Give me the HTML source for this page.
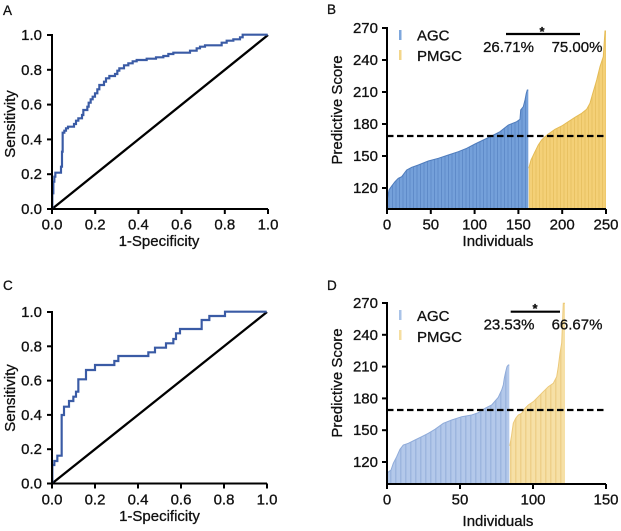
<!DOCTYPE html>
<html>
<head>
<meta charset="utf-8">
<style>
  html, body { margin: 0; padding: 0; background: #ffffff; }
  body { width: 621px; height: 531px; overflow: hidden; }
  svg { display: block; }
  text { font-family: "Liberation Sans", Arial, sans-serif; fill: #111; stroke: #111; stroke-width: 0.3px; }
</style>
</head>
<body>
<svg width="621" height="531" viewBox="0 0 621 531" xmlns="http://www.w3.org/2000/svg">
  <defs>
    <pattern id="pB1" patternUnits="userSpaceOnUse" width="3.5" height="10">
      <rect width="3.5" height="10" fill="#74a0da"/>
      <rect x="0" width="1" height="10" fill="#5f8bc9"/>
    </pattern>
    <pattern id="pB2" patternUnits="userSpaceOnUse" width="3.5" height="10">
      <rect width="3.5" height="10" fill="#f4d077"/>
      <rect x="0" width="1" height="10" fill="#e9c263"/>
    </pattern>
    <pattern id="pD1" patternUnits="userSpaceOnUse" width="5" height="10">
      <rect width="5" height="10" fill="#b3c8ea"/>
      <rect x="0" width="1.5" height="10" fill="#9db6df"/>
    </pattern>
    <pattern id="pD2" patternUnits="userSpaceOnUse" width="5" height="10">
      <rect width="5" height="10" fill="#f6e0a6"/>
      <rect x="0" width="1.5" height="10" fill="#eed08a"/>
    </pattern>
  </defs>

  <rect width="621" height="531" fill="#ffffff"/>

  <!-- ================= Panel A ================= -->
  <text x="3" y="15" font-size="13.5">A</text>
  <line x1="52" y1="209" x2="268" y2="35" stroke="#000" stroke-width="2.3"/>
  <g transform="scale(0.33333)">
    <path d="M157,626 L157,580 L160,580 L160,545 L163,545 L163,530 L166,530 L166,518 L183,518 L183,500 L186,500 L186,455 L188,455 L188,398 L193,398 L193,392 L198,392 L198,385 L204,385 L204,380 L222,380 L222,372 L228,372 L228,362 L235,362 L235,355 L246,355 L246,345 L250,345 L250,330 L262,330 L262,320 L266,320 L266,308 L272,308 L272,298 L278,298 L278,290 L285,290 L285,280 L292,280 L292,268 L298,268 L298,255 L312,255 L312,245 L318,245 L318,235 L328,235 L328,228 L345,228 L345,222 L352,222 L352,212 L358,212 L358,205 L372,205 L372,196 L385,196 L385,190 L398,190 L398,184 L410,184 L410,180 L440,180 L440,176 L468,176 L468,172 L490,172 L490,168 L505,168 L505,162 L520,162 L520,158 L570,158 L570,152 L590,152 L590,145 L600,145 L600,140 L615,140 L615,136 L665,136 L665,128 L680,128 L680,122 L700,122 L700,118 L720,118 L720,112 L728,112 L728,104 L803,104"
          fill="none" stroke="#3a5ba5" stroke-width="6.5" stroke-linejoin="miter"/>
  </g>
  <g stroke="#000" stroke-width="2" fill="none">
    <line x1="52" y1="34" x2="52" y2="210"/>
    <line x1="51" y1="209" x2="268" y2="209"/>
    <line x1="47" y1="209" x2="52" y2="209"/>
    <line x1="47" y1="174.2" x2="52" y2="174.2"/>
    <line x1="47" y1="139.4" x2="52" y2="139.4"/>
    <line x1="47" y1="104.6" x2="52" y2="104.6"/>
    <line x1="47" y1="69.8" x2="52" y2="69.8"/>
    <line x1="47" y1="35" x2="52" y2="35"/>
    <line x1="52" y1="209" x2="52" y2="214"/>
    <line x1="95.2" y1="209" x2="95.2" y2="214"/>
    <line x1="138.4" y1="209" x2="138.4" y2="214"/>
    <line x1="181.6" y1="209" x2="181.6" y2="214"/>
    <line x1="224.8" y1="209" x2="224.8" y2="214"/>
    <line x1="268" y1="209" x2="268" y2="214"/>
  </g>
  <g font-size="15" text-anchor="end">
    <text x="42" y="214">0.0</text>
    <text x="42" y="179.2">0.2</text>
    <text x="42" y="144.4">0.4</text>
    <text x="42" y="109.6">0.6</text>
    <text x="42" y="74.8">0.8</text>
    <text x="42" y="40">1.0</text>
  </g>
  <g font-size="15" text-anchor="middle">
    <text x="52" y="229.5">0.0</text>
    <text x="95.2" y="229.5">0.2</text>
    <text x="138.4" y="229.5">0.4</text>
    <text x="181.6" y="229.5">0.6</text>
    <text x="224.8" y="229.5">0.8</text>
    <text x="268" y="229.5">1.0</text>
  </g>
  <text x="159" y="246" font-size="15" text-anchor="middle">1-Specificity</text>
  <text transform="translate(15,124) rotate(-90)" font-size="15" text-anchor="middle">Sensitivity</text>

  <!-- ================= Panel B ================= -->
  <text x="327" y="14" font-size="13.5">B</text>
  <polygon fill="url(#pB1)" points="387.5,209 387.5,198 389,190 391.7,186 395,181.7 398.3,178.3 401.7,176.7 406.7,170 411.7,167.3 418.3,165 428.3,161 438.3,158.3 448.3,155 458.3,151.7 466.7,148.3 475,144 483.3,140 491.7,136 500,131.7 508.3,125 516.7,121.7 520,119.3 520.7,110 523.3,106.7 525,100 526.3,93.3 527.3,90 528.3,90 528.3,209"/>
  <polyline fill="none" stroke="#4f7cbc" stroke-width="1" points="387.5,198 389,190 391.7,186 395,181.7 398.3,178.3 401.7,176.7 406.7,170 411.7,167.3 418.3,165 428.3,161 438.3,158.3 448.3,155 458.3,151.7 466.7,148.3 475,144 483.3,140 491.7,136 500,131.7 508.3,125 516.7,121.7 520,119.3 520.7,110 523.3,106.7 525,100 526.3,93.3 527.3,90 528.3,90"/>
  <polygon fill="url(#pB2)" points="528.8,209 528.8,168.3 531,160 535,151.7 538.3,145 541.7,140 545,136.7 548.3,134 551.7,131.7 555,129.3 561.7,126 568.3,121.7 575,117.3 581.7,113.3 586.7,109.3 590,103.3 592.3,95 594.3,88.3 596.7,80 600,66.7 603.3,56.7 605,31 606,31 606,209"/>
  <polyline fill="none" stroke="#e4bb55" stroke-width="1" points="528.8,168.3 531,160 535,151.7 538.3,145 541.7,140 545,136.7 548.3,134 551.7,131.7 555,129.3 561.7,126 568.3,121.7 575,117.3 581.7,113.3 586.7,109.3 590,103.3 592.3,95 594.3,88.3 596.7,80 600,66.7 603.3,56.7 605,31 606,31"/>
  <line x1="387" y1="136" x2="606" y2="136" stroke="#000" stroke-width="2.2" stroke-dasharray="6.5 3.5"/>
  <g stroke="#000" stroke-width="2" fill="none">
    <line x1="387" y1="27" x2="387" y2="210"/>
    <line x1="386" y1="209" x2="606" y2="209"/>
    <line x1="382" y1="28" x2="387" y2="28"/>
    <line x1="382" y1="60" x2="387" y2="60"/>
    <line x1="382" y1="92" x2="387" y2="92"/>
    <line x1="382" y1="124" x2="387" y2="124"/>
    <line x1="382" y1="156" x2="387" y2="156"/>
    <line x1="382" y1="188" x2="387" y2="188"/>
    <line x1="387" y1="209" x2="387" y2="214"/>
    <line x1="430.8" y1="209" x2="430.8" y2="214"/>
    <line x1="474.6" y1="209" x2="474.6" y2="214"/>
    <line x1="518.4" y1="209" x2="518.4" y2="214"/>
    <line x1="562.2" y1="209" x2="562.2" y2="214"/>
    <line x1="606" y1="209" x2="606" y2="214"/>
  </g>
  <g font-size="15" text-anchor="end">
    <text x="378" y="33">270</text>
    <text x="378" y="65">240</text>
    <text x="378" y="97">210</text>
    <text x="378" y="129">180</text>
    <text x="378" y="161">150</text>
    <text x="378" y="193">120</text>
  </g>
  <g font-size="15" text-anchor="middle">
    <text x="387" y="229.5">0</text>
    <text x="430.8" y="229.5">50</text>
    <text x="474.6" y="229.5">100</text>
    <text x="518.4" y="229.5">150</text>
    <text x="562.2" y="229.5">200</text>
    <text x="606" y="229.5">250</text>
  </g>
  <text x="498" y="246" font-size="15" text-anchor="middle">Individuals</text>
  <text transform="translate(342,110) rotate(-90)" font-size="15" text-anchor="middle">Predictive Score</text>
  <rect x="399" y="30" width="2.5" height="10" fill="#7ea7dd"/>
  <rect x="399" y="50" width="2.5" height="10" fill="#f3d68a"/>
  <text x="417" y="40.5" font-size="15">AGC</text>
  <text x="417" y="61" font-size="15">PMGC</text>
  <line x1="506" y1="34" x2="580" y2="34" stroke="#000" stroke-width="2.2"/>
  <text x="542" y="36" font-size="13" font-weight="bold" text-anchor="middle">*</text>
  <text x="508.5" y="52" font-size="15" text-anchor="middle">26.71%</text>
  <text x="577" y="52" font-size="15" text-anchor="middle">75.00%</text>

  <!-- ================= Panel C ================= -->
  <text x="3" y="290" font-size="13.5">C</text>
  <line x1="52" y1="483.5" x2="267" y2="312" stroke="#000" stroke-width="2.3"/>
  <g transform="translate(0,265) scale(0.33333)">
    <path d="M157,653 L157,600 L163,600 L163,588 L172,588 L172,572 L185,572 L185,450 L192,450 L192,425 L207,425 L207,408 L220,408 L220,395 L228,395 L228,380 L235,380 L235,343 L258,343 L258,315 L285,315 L285,300 L343,300 L343,288 L355,288 L355,273 L445,273 L445,262 L465,262 L465,248 L498,248 L498,235 L520,235 L520,222 L528,222 L528,205 L540,205 L540,192 L605,192 L605,165 L628,165 L628,153 L675,153 L675,140 L800,140"
          fill="none" stroke="#3a5ba5" stroke-width="6.5" stroke-linejoin="miter"/>
  </g>
  <g stroke="#000" stroke-width="2" fill="none">
    <line x1="52" y1="311" x2="52" y2="484.5"/>
    <line x1="51" y1="483.5" x2="267" y2="483.5"/>
    <line x1="47" y1="483.5" x2="52" y2="483.5"/>
    <line x1="47" y1="449.2" x2="52" y2="449.2"/>
    <line x1="47" y1="414.9" x2="52" y2="414.9"/>
    <line x1="47" y1="380.6" x2="52" y2="380.6"/>
    <line x1="47" y1="346.3" x2="52" y2="346.3"/>
    <line x1="47" y1="312" x2="52" y2="312"/>
    <line x1="52" y1="483.5" x2="52" y2="488.5"/>
    <line x1="95" y1="483.5" x2="95" y2="488.5"/>
    <line x1="138" y1="483.5" x2="138" y2="488.5"/>
    <line x1="181" y1="483.5" x2="181" y2="488.5"/>
    <line x1="224" y1="483.5" x2="224" y2="488.5"/>
    <line x1="267" y1="483.5" x2="267" y2="488.5"/>
  </g>
  <g font-size="15" text-anchor="end">
    <text x="42" y="488.5">0.0</text>
    <text x="42" y="454.2">0.2</text>
    <text x="42" y="419.9">0.4</text>
    <text x="42" y="385.6">0.6</text>
    <text x="42" y="351.3">0.8</text>
    <text x="42" y="317">1.0</text>
  </g>
  <g font-size="15" text-anchor="middle">
    <text x="52" y="504.5">0.0</text>
    <text x="95" y="504.5">0.2</text>
    <text x="138" y="504.5">0.4</text>
    <text x="181" y="504.5">0.6</text>
    <text x="224" y="504.5">0.8</text>
    <text x="267" y="504.5">1.0</text>
  </g>
  <text x="159.5" y="521" font-size="15" text-anchor="middle">1-Specificity</text>
  <text transform="translate(15,398) rotate(-90)" font-size="15" text-anchor="middle">Sensitivity</text>

  <!-- ================= Panel D ================= -->
  <text x="327" y="290" font-size="13.5">D</text>
  <polygon fill="url(#pD1)" points="387.5,484 387.5,472.7 391,470 393.3,463.3 396.7,456.7 400,449.3 403.3,445 408.3,443.3 415,440 421.7,436.7 428.3,433.3 435,429.3 443.3,423.3 451.7,420 461.7,416.7 471.7,415 478.3,412.7 485,408.3 491.7,405 498.3,397.3 501.7,390 503.3,385 504.3,378.3 505.7,371.7 507,366.7 508.3,365 509.3,365 509.3,484"/>
  <polyline fill="none" stroke="#8fabd9" stroke-width="1" points="387.5,472.7 391,470 393.3,463.3 396.7,456.7 400,449.3 403.3,445 408.3,443.3 415,440 421.7,436.7 428.3,433.3 435,429.3 443.3,423.3 451.7,420 461.7,416.7 471.7,415 478.3,412.7 485,408.3 491.7,405 498.3,397.3 501.7,390 503.3,385 504.3,378.3 505.7,371.7 507,366.7 508.3,365 509.3,365"/>
  <polygon fill="url(#pD2)" points="509.8,484 509.8,446 511.5,436 513.3,423.3 515.7,418.3 518.3,415 521.7,413.3 525,408.3 528.3,405 533.3,401.7 538.3,396.7 543.3,391.7 548.3,386.7 553.3,383.3 556.7,376.7 558.3,366.7 560,353.3 561.7,343 563.3,303.3 565,303.3 565,484"/>
  <polyline fill="none" stroke="#ecc97a" stroke-width="1" points="509.8,446 511.5,436 513.3,423.3 515.7,418.3 518.3,415 521.7,413.3 525,408.3 528.3,405 533.3,401.7 538.3,396.7 543.3,391.7 548.3,386.7 553.3,383.3 556.7,376.7 558.3,366.7 560,353.3 561.7,343 563.3,303.3 565,303.3"/>
  <line x1="387" y1="410" x2="606" y2="410" stroke="#000" stroke-width="2.2" stroke-dasharray="6.5 3.5"/>
  <g stroke="#000" stroke-width="2" fill="none">
    <line x1="387" y1="302" x2="387" y2="485"/>
    <line x1="386" y1="484" x2="606" y2="484"/>
    <line x1="382" y1="303" x2="387" y2="303"/>
    <line x1="382" y1="334.8" x2="387" y2="334.8"/>
    <line x1="382" y1="366.6" x2="387" y2="366.6"/>
    <line x1="382" y1="398.4" x2="387" y2="398.4"/>
    <line x1="382" y1="430.2" x2="387" y2="430.2"/>
    <line x1="382" y1="462" x2="387" y2="462"/>
    <line x1="387" y1="484" x2="387" y2="489"/>
    <line x1="460" y1="484" x2="460" y2="489"/>
    <line x1="533" y1="484" x2="533" y2="489"/>
    <line x1="606" y1="484" x2="606" y2="489"/>
  </g>
  <g font-size="15" text-anchor="end">
    <text x="378" y="308">270</text>
    <text x="378" y="339.8">240</text>
    <text x="378" y="371.6">210</text>
    <text x="378" y="403.4">180</text>
    <text x="378" y="435.2">150</text>
    <text x="378" y="467">120</text>
  </g>
  <g font-size="15" text-anchor="middle">
    <text x="387" y="504.5">0</text>
    <text x="460" y="504.5">50</text>
    <text x="533" y="504.5">100</text>
    <text x="606" y="504.5">150</text>
  </g>
  <text x="498" y="526" font-size="15" text-anchor="middle">Individuals</text>
  <text transform="translate(342,383) rotate(-90)" font-size="15" text-anchor="middle">Predictive Score</text>
  <rect x="399" y="310" width="2.5" height="10" fill="#a9c3e8"/>
  <rect x="399" y="330" width="2.5" height="10" fill="#f5dea0"/>
  <text x="417" y="321" font-size="15">AGC</text>
  <text x="417" y="342" font-size="15">PMGC</text>
  <line x1="510.7" y1="311.7" x2="560" y2="311.7" stroke="#000" stroke-width="2.2"/>
  <text x="535" y="313" font-size="13" font-weight="bold" text-anchor="middle">*</text>
  <text x="509" y="329.5" font-size="15" text-anchor="middle">23.53%</text>
  <text x="577" y="329.5" font-size="15" text-anchor="middle">66.67%</text>
</svg>
</body>
</html>
